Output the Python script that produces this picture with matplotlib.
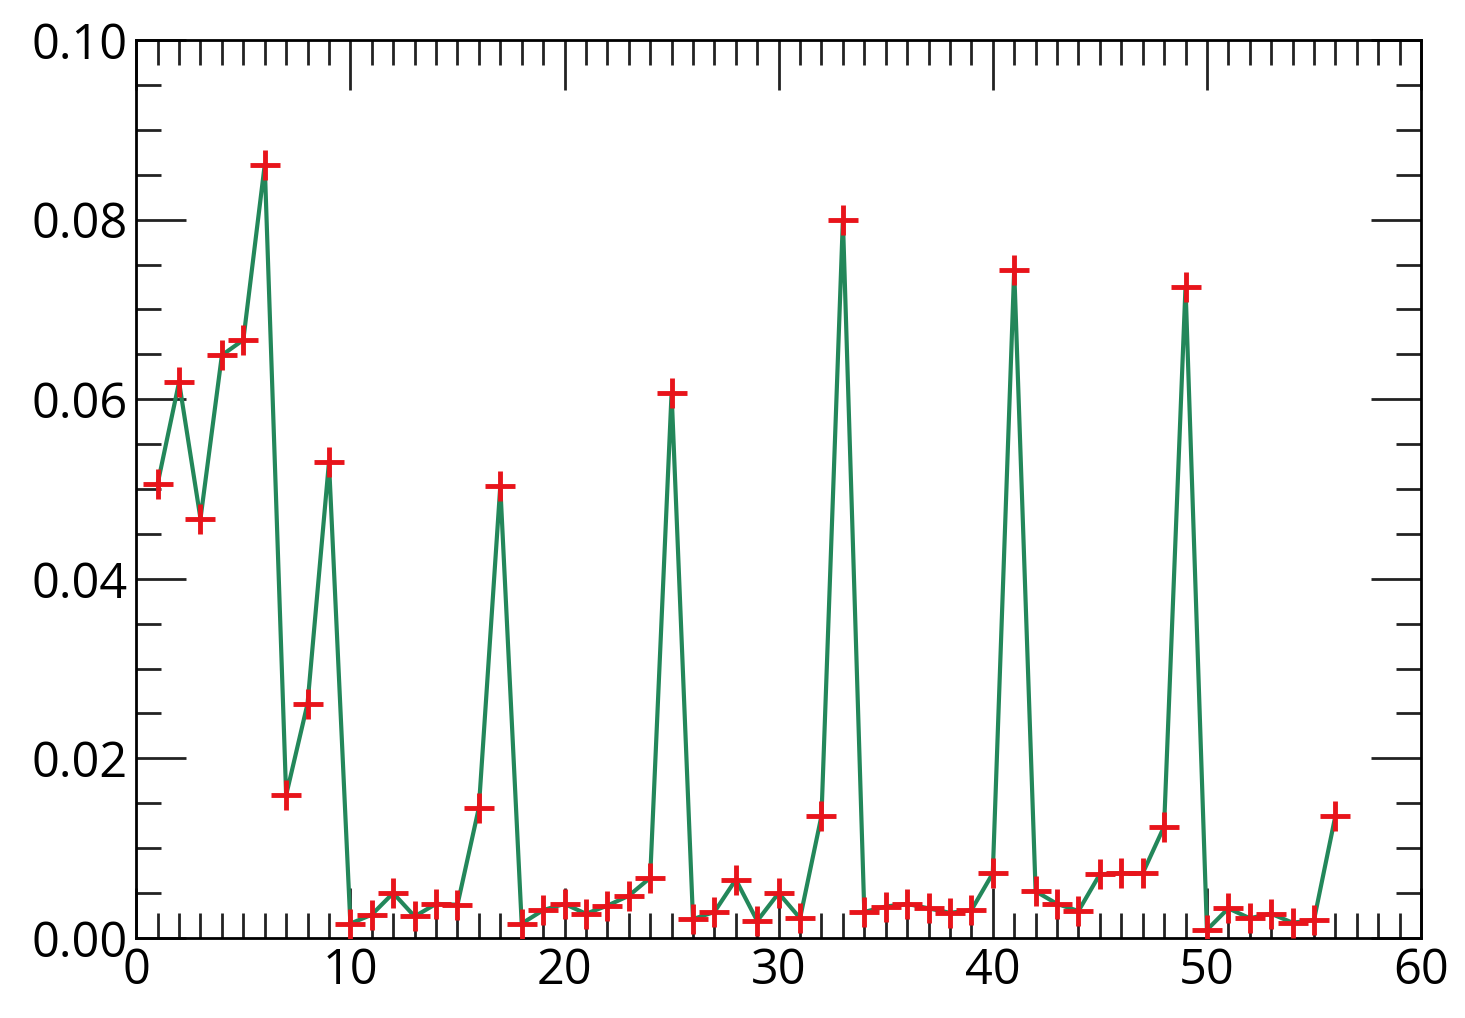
import matplotlib
matplotlib.use("Agg")
import matplotlib.pyplot as plt
from matplotlib.ticker import MultipleLocator

x = list(range(1, 57))
y = [0.0506, 0.0619, 0.0467, 0.0649, 0.0666, 0.0861, 0.0159, 0.0261, 0.0530, 0.0016,
     0.0026, 0.0050, 0.0024, 0.0038, 0.0037, 0.0145, 0.0503, 0.0016, 0.0031, 0.0038,
     0.0027, 0.0036, 0.0047, 0.0067, 0.0607, 0.0021, 0.0029, 0.0065, 0.0019, 0.0050,
     0.0022, 0.0136, 0.0800, 0.0029, 0.0035, 0.0038, 0.0033, 0.0028, 0.0031, 0.0072,
     0.0744, 0.0052, 0.0038, 0.0030, 0.0071, 0.0072, 0.0072, 0.0124, 0.0725, 0.0009,
     0.0033, 0.0022, 0.0027, 0.0017, 0.0020, 0.0136]

plt.rcParams['font.family'] = ['Open Sans', 'DejaVu Sans']
fig = plt.figure(figsize=(14.65, 10.18), dpi=100)
ax = fig.add_axes([0.093, 0.0786, 0.877, 0.8821])
ax.plot(x, y, color='#23875a', lw=3, zorder=2)
ax.plot(x, y, ls='none', marker='+', ms=22, mew=3.5, color='#e8141b', zorder=3)

ax.set_xlim(0, 60)
ax.set_ylim(0, 0.10)
ax.xaxis.set_major_locator(MultipleLocator(10))
ax.xaxis.set_minor_locator(MultipleLocator(1))
ax.yaxis.set_major_locator(MultipleLocator(0.02))
ax.yaxis.set_minor_locator(MultipleLocator(0.005))
ax.yaxis.set_major_formatter(plt.FuncFormatter(lambda v, p: f"{v:.2f}"))
ax.tick_params(which='both', direction='in', top=True, right=True, width=2, labelsize=35, color='#222222')
ax.tick_params(which='major', length=36, pad=6)
ax.tick_params(which='minor', length=18)
for s in ax.spines.values():
    s.set_linewidth(2)
fig.savefig("out.png", dpi=100)
